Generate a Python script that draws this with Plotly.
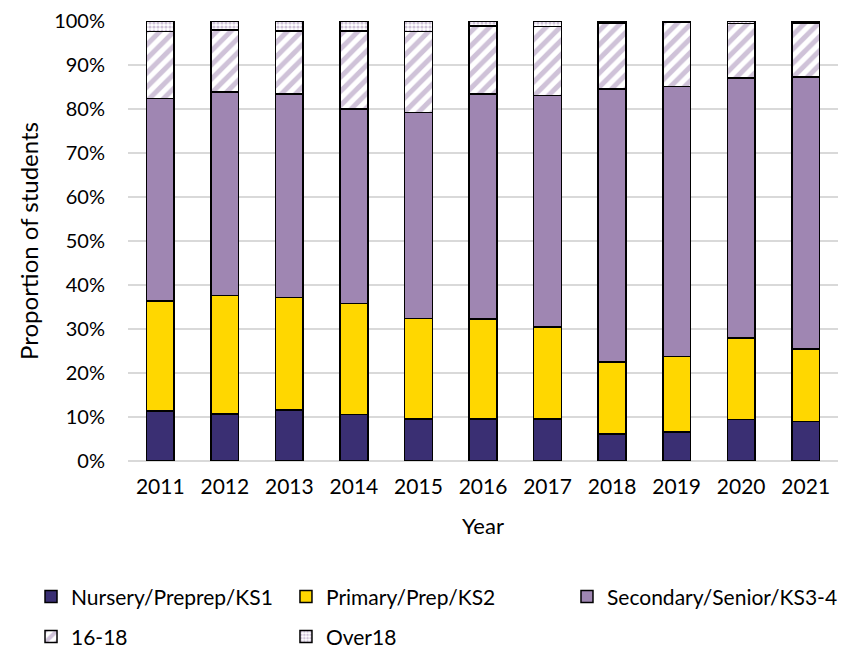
import plotly.graph_objects as go

years = ["2011", "2012", "2013", "2014", "2015", "2016", "2017", "2018", "2019", "2020", "2021"]

# share of students (%) per stage
nursery = [11.4, 10.7, 11.6, 10.6, 9.5, 9.5, 9.6, 6.1, 6.6, 9.4, 9.0]
primary = [25.0, 26.9, 25.6, 25.2, 22.9, 22.8, 20.8, 16.4, 17.2, 18.6, 16.4]
secondary = [46.0, 46.3, 46.2, 44.2, 46.8, 51.1, 52.7, 62.0, 61.3, 59.1, 61.9]
sixth_form = [15.2, 14.0, 14.3, 17.7, 18.4, 15.5, 15.6, 15.1, 14.7, 12.3, 12.2]
over18 = [2.4, 2.1, 2.3, 2.3, 2.4, 1.1, 1.3, 0.4, 0.2, 0.6, 0.5]

FONT = "Lato, 'Open Sans', sans-serif"
PURPLE = "#9F86B2"
outline = dict(color="#000000", width=1.5)

fig = go.Figure()

fig.add_trace(go.Bar(
    x=years, y=nursery, name="Nursery/Preprep/KS1", legend="legend",
    marker=dict(color="#3A2F73", line=outline),
))
fig.add_trace(go.Bar(
    x=years, y=primary, name="Primary/Prep/KS2", legend="legend2",
    marker=dict(color="#FFD700", line=outline),
))
fig.add_trace(go.Bar(
    x=years, y=secondary, name="Secondary/Senior/KS3-4", legend="legend3",
    marker=dict(color=PURPLE, line=outline),
))
fig.add_trace(go.Bar(
    x=years, y=sixth_form, name="16-18", legend="legend4",
    marker=dict(color="white", line=outline,
                pattern=dict(shape="/", fgcolor=PURPLE, bgcolor="white", size=10, solidity=0.5)),
))
fig.add_trace(go.Bar(
    x=years, y=over18, name="Over18", legend="legend5",
    marker=dict(color="white", line=outline,
                pattern=dict(shape=".", fgcolor=PURPLE, bgcolor="white", size=4, solidity=0.5)),
))


def legend_at(x, y):
    # one legend per entry so the Excel-style grid can be placed exactly
    return dict(
        orientation="h", x=x, y=y, xanchor="left", yanchor="top",
        font=dict(family=FONT, size=21), itemwidth=30,
        bgcolor="rgba(0,0,0,0)", visible=True,
    )


row1, row2 = -0.262, -0.353
col1, col2, col3 = -0.1366, 0.2225, 0.6183

fig.update_layout(
    width=850, height=642,
    barmode="stack", bargap=0.57,
    template="plotly_white",
    showlegend=True,
    font=dict(family=FONT, size=21, color="#000000"),
    margin=dict(l=120, r=20, t=13, b=189, autoexpand=False),
    paper_bgcolor="white", plot_bgcolor="white",
    legend=legend_at(col1, row1),
    legend2=legend_at(col2, row1),
    legend3=legend_at(col3, row1),
    legend4=legend_at(col1, row2),
    legend5=legend_at(col2, row2),
)
fig.update_xaxes(
    title=dict(text="Year", font=dict(size=22), standoff=21),
    showgrid=False, showline=False,
    ticks="outside", ticklen=7, tickcolor="rgba(0,0,0,0)",
    tickfont=dict(size=21),
)
fig.update_yaxes(
    title=dict(text="Proportion of students", font=dict(size=24), standoff=8),
    range=[0, 100], dtick=10, ticksuffix="%",
    showgrid=True, gridcolor="#D9D9D9", gridwidth=1.5,
    zeroline=True, zerolinecolor="#D9D9D9", zerolinewidth=1.5,
    showline=False,
    ticks="outside", ticklen=18, tickcolor="rgba(0,0,0,0)",
    tickfont=dict(size=20), ticklabeloverflow="allow",
)

fig.write_html("out.html")
